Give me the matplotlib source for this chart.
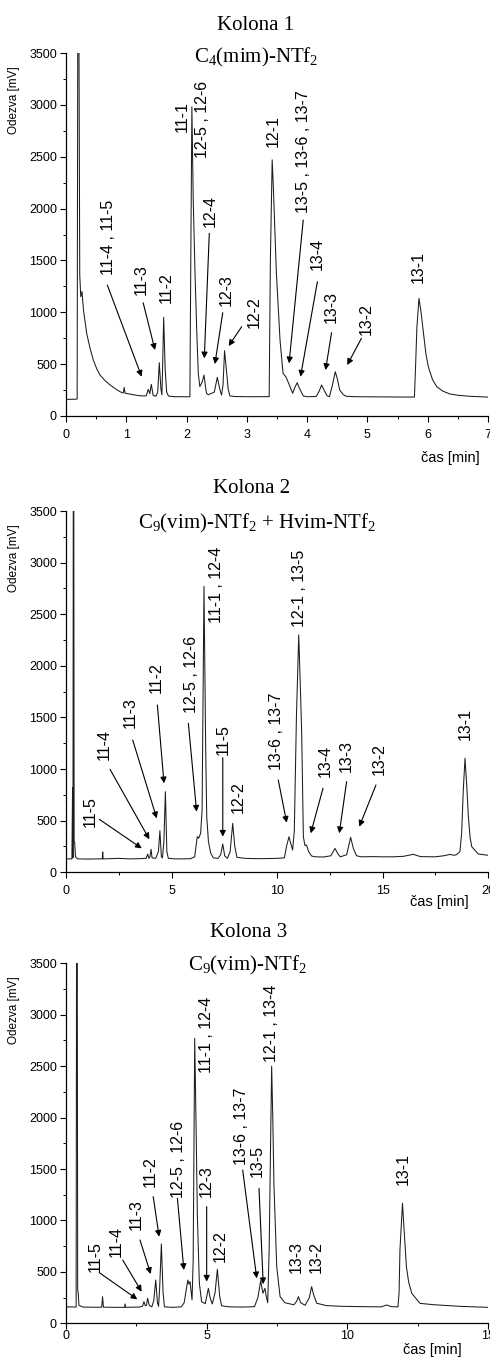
import matplotlib
matplotlib.use('Agg')
import matplotlib.pyplot as plt
from matplotlib.ticker import MultipleLocator

plt.rcParams['font.family'] = ['Liberation Sans', 'DejaVu Sans']
plt.rcParams['mathtext.fontset'] = 'custom'
plt.rcParams['mathtext.rm'] = 'Liberation Serif'
plt.rcParams['mathtext.it'] = 'Liberation Serif:italic'

# ---- data (time [min], response [mV]) ----
p1_time = [0.00, 0.17, 0.185, 0.195, 0.215, 0.228, 0.245, 0.265, 0.29, 0.343, 0.40, 0.453,
           0.51, 0.564, 0.65, 0.73, 0.82, 0.896, 0.95, 0.965, 0.98, 1.05, 1.117, 1.2, 1.28,
           1.33, 1.365, 1.39, 1.415, 1.445, 1.49, 1.522, 1.547, 1.575, 1.59, 1.60, 1.62,
           1.645, 1.67, 1.70, 1.80, 1.90, 2.00, 2.055, 2.07, 2.088, 2.11, 2.14, 2.17, 2.194,
           2.22, 2.26, 2.29, 2.31, 2.33, 2.36, 2.46, 2.51, 2.55, 2.58, 2.605, 2.63, 2.66,
           2.69, 2.72, 2.80, 3.00, 3.20, 3.37, 3.39, 3.42, 3.44, 3.49, 3.55, 3.60, 3.65,
           3.69, 3.76, 3.80, 3.835, 3.87, 3.935, 4.00, 4.15, 4.20, 4.24, 4.28, 4.33, 4.37,
           4.42, 4.467, 4.50, 4.54, 4.60, 4.65, 4.80, 5.00, 5.30, 5.50, 5.78, 5.80, 5.82,
           5.855, 5.89, 5.93, 5.97, 6.01, 6.08, 6.15, 6.25, 6.37, 6.50, 6.70, 7.00]
p1_signal = [160, 162, 165, 3600, 3600, 1360, 1150, 1200, 1020, 797, 650, 540,
             455, 395, 340, 300, 262, 234, 222, 275, 220, 212, 205, 197, 193,
             195, 257, 215, 305, 200, 190, 230, 514, 260, 205, 400, 951,
             450, 230, 192, 186, 186, 185, 186, 1500, 2980, 2100, 1376, 800, 412,
             283, 330, 395, 300, 219, 205, 230, 373, 260, 202, 300, 630, 450,
             260, 193, 188, 186, 186, 187, 1500, 2470, 2200, 1376, 733, 412, 375,
             320, 219, 280, 321, 270, 193, 186, 188, 240, 299, 250, 195, 186,
             300, 427, 360, 250, 205, 190, 186, 185, 184, 183, 183, 500, 850,
             1134, 1000, 797, 600, 475, 350, 283, 240, 212, 200, 190, 182]

p2_time = [0.00, 0.28, 0.31, 0.33, 0.345, 0.37, 0.385, 0.41, 0.45, 0.55, 1.0, 1.5, 1.72,
           1.74, 1.76, 2.5, 3.0, 3.5, 3.8, 3.87, 3.93, 3.98, 4.03, 4.08, 4.25, 4.38, 4.45,
           4.52, 4.57, 4.64, 4.71, 4.78, 4.85, 5.2, 5.6, 5.9, 6.1, 6.22, 6.29, 6.38, 6.45,
           6.54, 6.62, 6.67, 6.75, 6.85, 6.98, 7.2, 7.33, 7.43, 7.52, 7.65, 7.78, 7.9, 8.0,
           8.1, 8.5, 9.0, 9.5, 10.0, 10.35, 10.45, 10.57, 10.65, 10.74, 10.82, 10.92, 11.03,
           11.12, 11.17, 11.25, 11.32, 11.4, 11.5, 11.64, 11.8, 12.2, 12.55, 12.75, 12.88,
           13.0, 13.3, 13.49, 13.62, 13.77, 14.0, 14.5, 15.0, 15.5, 16.0, 16.46, 16.8, 17.5,
           17.9, 18.2, 18.4, 18.5, 18.67, 18.75, 18.83, 18.91, 18.99, 19.07, 19.15, 19.23,
           19.54, 20.0]
p2_signal = [130, 130, 820, 140, 3600, 3600, 300, 290, 150, 130, 128, 130, 130,
             197, 130, 135, 130, 132, 135, 177, 135, 150, 223, 140, 135, 200, 403,
             150, 140, 300, 781, 200, 135, 130, 130, 132, 150, 345, 330, 378, 600,
             2770, 1200, 539, 300, 190, 140, 135, 170, 274, 160, 135, 200, 474, 250,
             145, 135, 132, 133, 135, 140, 250, 345, 280, 216, 400, 1500, 2300,
             1700, 1346, 345, 260, 264, 200, 158, 150, 148, 160, 232, 180,
             150, 170, 339, 230, 160, 150, 152, 150, 150, 155, 174, 152, 150,
             160, 173, 165, 170, 200, 378, 800, 1104, 850, 539, 340, 248,
             177, 165]

p3_time = [0.00, 0.36, 0.375, 0.40, 0.415, 0.43, 0.46, 0.6, 1.0, 1.27, 1.30, 1.33, 1.8,
           2.08, 2.10, 2.12, 2.6, 2.72, 2.77, 2.82, 2.86, 2.90, 2.96, 3.05, 3.12, 3.19,
           3.25, 3.29, 3.33, 3.39, 3.45, 3.50, 3.8, 4.1, 4.2, 4.33, 4.37, 4.41, 4.45, 4.48,
           4.52, 4.575, 4.63, 4.67, 4.74, 4.82, 4.95, 5.06, 5.13, 5.2, 5.3, 5.38, 5.46,
           5.53, 5.8, 6.3, 6.7, 6.82, 6.92, 7.0, 7.07, 7.12, 7.17, 7.22, 7.31, 7.35, 7.39,
           7.49, 7.61, 7.78, 8.1, 8.2, 8.26, 8.34, 8.5, 8.65, 8.73, 8.8, 8.91, 9.26, 9.8,
           10.5, 11.2, 11.4, 11.55, 11.8, 11.84, 11.87, 11.96, 12.02, 12.1, 12.18, 12.29,
           12.58, 13.1, 14.0, 15.0]
p3_signal = [160, 158, 3600, 3600, 320, 307, 175, 158, 156, 157, 259, 157, 155,
             155, 188, 155, 158, 165, 210, 170, 175, 243, 175, 160, 220, 421,
             200, 165, 350, 771, 300, 160, 155, 160, 200, 421, 380, 405, 300, 228,
             600, 2770, 1800, 1036, 389, 210, 190, 340, 240, 188, 300, 525, 270,
             170, 160, 158, 162, 250, 414, 292, 340, 260, 200, 700, 2500, 2000, 1361,
             550, 259, 200, 180, 215, 259, 200, 175, 250, 356, 280, 195, 172, 165,
             162, 160, 178, 162, 160, 300, 713, 1167, 900, 550, 400, 292,
             194, 180, 165, 155]

# peak labels: (text, time, response at label bottom, arrow start, arrow end)
p1_labels = [
    ('11-4 , 11-5', 0.70, 1360, (0.685, 1263), (1.255, 379)),
    ('11-3', 1.255, 1166, (1.28, 1092), (1.476, 636)),
    ('11-2', 1.67, 1089, None, None),
    ('11-1', 1.935, 2738, None, None),
    ('12-5 , 12-6', 2.27, 2487, None, None),
    ('12-4', 2.40, 1822, (2.377, 1761), (2.294, 556)),
    ('12-3', 2.665, 1060, (2.60, 996), (2.47, 501)),
    ('12-2', 3.12, 848, (2.914, 861), (2.698, 675)),
    ('12-1', 3.43, 2593, None, None),
    ('13-5 , 13-6 , 13-7', 3.935, 1957, (3.935, 1889), (3.70, 508)),
    ('13-4', 4.17, 1407, (4.17, 1295), (3.89, 379)),
    ('13-3', 4.405, 896, (4.405, 803), (4.305, 443)),
    ('13-2', 4.975, 781, (4.90, 749), (4.665, 492)),
    ('13-1', 5.84, 1282, None, None),
]
p2_labels = [
    ('11-5', 1.137, 442, (1.58, 513), (3.59, 232)),
    ('11-4', 1.80, 1089, (2.085, 998), (3.95, 320)),
    ('11-3', 3.066, 1400, (3.16, 1282), (4.30, 523)),
    ('11-2', 4.30, 1738, (4.33, 1621), (4.645, 862)),
    ('12-5 , 12-6', 5.96, 1543, (5.80, 1443), (6.19, 587)),
    ('11-1 , 12-4', 7.14, 2411, None, None),
    ('11-5', 7.43, 1137, (7.43, 1110), (7.43, 345)),
    ('12-2', 8.17, 571, None, None),
    ('13-6 , 13-7', 9.985, 991, (10.06, 894), (10.46, 480)),
    ('12-1 , 13-5', 11.09, 2377, None, None),
    ('13-4', 12.27, 923, (12.18, 814), (11.60, 378)),
    ('13-3', 13.27, 973, (13.30, 878), (12.95, 378)),
    ('13-2', 14.85, 943, (14.69, 846), (13.90, 442)),
    ('13-1', 18.91, 1282, None, None),
]
p3_labels = [
    ('11-5', 1.03, 502, (1.185, 492), (2.535, 233)),
    ('11-4', 1.80, 648, (2.015, 615), (2.69, 307)),
    ('11-3', 2.49, 907, (2.63, 810), (3.01, 479)),
    ('11-2', 2.986, 1328, (3.10, 1231), (3.31, 842)),
    ('12-5 , 12-6', 3.99, 1217, (3.96, 1215), (4.19, 518)),
    ('11-1 , 12-4', 5.00, 2430, None, None),
    ('12-3', 5.00, 1231, (5.00, 1134), (5.00, 405)),
    ('12-2', 5.475, 599, None, None),
    ('13-6 , 13-7', 6.245, 1539, (6.28, 1490), (6.78, 437)),
    ('13-5', 6.80, 1425, (6.86, 1312), (7.01, 380)),
    ('12-1 , 13-4', 7.31, 2541, None, None),
    ('13-3', 8.18, 486, None, None),
    ('13-2', 8.89, 486, None, None),
    ('13-1', 11.97, 1345, None, None),
]

titles = ['Kolona 1', 'Kolona 2', 'Kolona 3']
phases = [r'C$_4$(mim)-NTf$_2$', r'C$_9$(vim)-NTf$_2$ + Hvim-NTf$_2$', r'C$_9$(vim)-NTf$_2$']

# ---- layout (pixel positions of the original figure) ----
W, H = 490, 1360
fig = plt.figure(figsize=(W / 100, H / 100), dpi=100)

panels = [
    dict(t=p1_time, v=p1_signal, labels=p1_labels, xmax=7, major=1, minor=0.5,
         box=(66, 416, 488, 53), xpad=5, xlab=(0.981, -0.116),
         title_y=30, phase_y=62, title_x=256, phase_x=256),
    dict(t=p2_time, v=p2_signal, labels=p2_labels, xmax=20, major=5, minor=2.5,
         box=(66, 872.3, 488, 511), xpad=5, xlab=(0.953, -0.081),
         title_y=493, phase_y=528, title_x=252, phase_x=257),
    dict(t=p3_time, v=p3_signal, labels=p3_labels, xmax=15, major=5, minor=2.5,
         box=(66, 1323.3, 488, 963.3), xpad=1, xlab=(0.938, -0.074),
         title_y=937, phase_y=970, title_x=249, phase_x=247),
]

for i, p in enumerate(panels):
    x0, yb, x1, yt = p['box']
    ax = fig.add_axes([x0 / W, 1 - yb / H, (x1 - x0) / W, (yb - yt) / H])
    ax.plot(p['t'], p['v'], color='#1c1c1c', lw=0.75)
    ax.set_xlim(0, p['xmax'])
    ax.set_ylim(0, 3500)

    ax.spines['top'].set_visible(False)
    ax.spines['right'].set_visible(False)
    for s in ('left', 'bottom'):
        ax.spines[s].set_linewidth(0.9)
    ax.xaxis.set_major_locator(MultipleLocator(p['major']))
    ax.xaxis.set_minor_locator(MultipleLocator(p['minor']))
    ax.yaxis.set_major_locator(MultipleLocator(500))
    ax.yaxis.set_minor_locator(MultipleLocator(250))
    ax.tick_params(which='major', direction='out', length=4, width=0.8, labelsize=9)
    ax.tick_params(which='minor', direction='out', length=2.2, width=0.7)
    ax.tick_params(axis='x', which='major', pad=p['xpad'])
    ax.tick_params(axis='y', which='major', pad=2.5)

    ax.set_ylabel('Odezva [mV]', fontsize=8.5)
    ax.yaxis.set_label_coords(-0.109, 0.87)
    ax.text(p['xlab'][0], p['xlab'][1], 'čas [min]', transform=ax.transAxes,
            ha='right', va='center', fontsize=10.5)

    for text, lt, lv, a0, a1 in p['labels']:
        ax.text(lt, lv, text, rotation=90, ha='center', va='bottom', fontsize=11.5)
        if a0 is not None:
            ax.annotate('', xy=a1, xytext=a0,
                        arrowprops=dict(arrowstyle='-|>', color='black', lw=0.8,
                                        shrinkA=0, shrinkB=0, mutation_scale=9))

    fig.text(p['title_x'] / W, 1 - p['title_y'] / H, titles[i], ha='center',
             va='baseline', fontsize=15, family='Liberation Serif')
    fig.text(p['phase_x'] / W, 1 - p['phase_y'] / H, phases[i], ha='center',
             va='baseline', fontsize=15, family='Liberation Serif')

fig.savefig('out.png', dpi=100)
